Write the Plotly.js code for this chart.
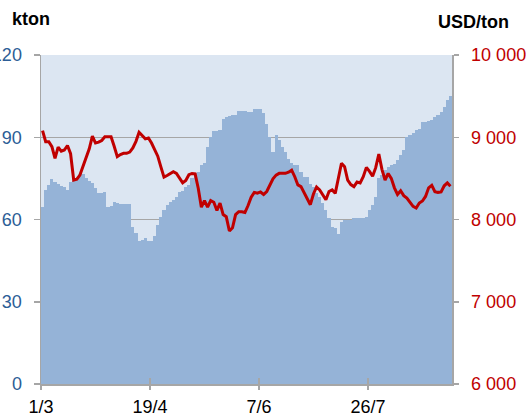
<!DOCTYPE html>
<html>
<head>
<meta charset="utf-8">
<script src="https://cdn.plot.ly/plotly-3.0.1.min.js"></script>
<style>html,body{margin:0;padding:0;background:#fff;} #chart{width:526px;height:413px;}</style>
</head>
<body>
<div id="chart"></div>
<script>
// Category tick labels (trading days, a label every 35 trading days)
const tickLabels = ['1/3', '19/4', '7/6', '26/7'];
const tickIndex = [0, 35, 70, 105];

// Stocks, kton (left axis, bars) - one value per trading day
const stocksKton = [
  64.7, 70.7, 72.6, 74.6, 73.6, 72.8, 72.3, 72.0, 70.7, 73.8,
  74.2, 74.4, 76.6, 76.6, 75.2, 74.2, 73.4, 71.5, 69.5, 69.8,
  70.0, 64.7, 65.0, 66.5, 66.0, 65.6, 65.6, 65.6, 65.6, 57.1,
  55.0, 52.2, 52.5, 53.1, 52.1, 52.1, 54.0, 58.0, 61.0, 63.5,
  65.3, 66.5, 67.0, 68.3, 70.0, 70.5, 72.0, 72.5, 75.0, 76.8,
  77.4, 79.9, 80.5, 86.5, 90.2, 92.2, 92.4, 92.6, 96.5, 97.3,
  97.7, 98.1, 98.1, 99.7, 99.7, 99.5, 99.3, 99.3, 100.2, 100.2,
  100.2, 98.9, 95.0, 90.2, 84.5, 90.8, 89.0, 86.5, 84.7, 82.0,
  80.5, 79.9, 79.9, 77.4, 75.6, 75.6, 73.0, 72.0, 69.5, 68.3,
  65.9, 63.5, 60.4, 57.4, 57.0, 54.7, 59.2, 59.8, 59.8, 59.8,
  60.4, 60.4, 60.4, 60.6, 61.0, 63.5, 65.3, 68.3, 75.0, 76.2,
  78.0, 79.0, 79.9, 80.2, 81.7, 83.5, 85.3, 90.2, 91.0, 91.4,
  92.6, 93.0, 95.4, 95.4, 96.0, 96.3, 97.5, 98.1, 99.3, 101.1,
  103.6, 105.0
];

// Price, USD/ton (right axis, line)
const priceUsd = [
  9080, 8946, 8946, 8885, 8744, 8880, 8830, 8845, 8900, 8800,
  8480, 8490, 8540, 8650, 8750, 8860, 9015, 8930, 8940, 8960,
  9005, 9007, 9005, 8890, 8764, 8790, 8804, 8804, 8820, 8870,
  8950, 9060, 9020, 8980, 8990, 8930, 8850, 8770, 8640, 8515,
  8535, 8560, 8581, 8560, 8500, 8445, 8475, 8545, 8560, 8555,
  8380, 8150, 8230, 8150, 8230, 8210, 8110, 8200, 8060, 8034,
  7860, 7900, 8060, 8095, 8095, 8085, 8170, 8270, 8330, 8320,
  8335, 8305, 8340, 8420, 8495, 8540, 8561, 8561, 8561, 8575,
  8600, 8520, 8420, 8400, 8330, 8250, 8180, 8310, 8395, 8359,
  8300, 8240, 8340, 8359, 8318, 8500, 8683, 8642, 8480, 8425,
  8400, 8455, 8445, 8520, 8634, 8585, 8525, 8630, 8796, 8610,
  8480, 8560, 8500, 8385, 8305, 8350, 8290, 8260, 8215, 8160,
  8140, 8200, 8225, 8280, 8385, 8415, 8338, 8330, 8335, 8410,
  8445, 8405
];

const leftTicks = [0, 30, 60, 90, 120];
const rightTicks = [6000, 7000, 8000, 9000, 10000];

const idx = stocksKton.map((_, i) => i);
const xRange = [-0.5, stocksKton.length - 0.5];
const tickPos = tickIndex.map(v => v - 0.5);

const gridGray = '#a6a6a6';
const FONT = 'Liberation Sans, Arial, sans-serif';

const traces = [
  {
    type: 'bar', x: idx, y: stocksKton, xaxis: 'x', yaxis: 'y',
    marker: {color: '#95b3d7', line: {width: 0}},
    hoverinfo: 'skip'
  },
  {
    type: 'scatter', mode: 'lines', x: idx, y: priceUsd, xaxis: 'x2', yaxis: 'y2',
    line: {color: '#c00000', width: 3, shape: 'linear'},
    hoverinfo: 'skip'
  }
];

const layout = {
  width: 526, height: 413,
  margin: {l: 41, r: 74, t: 55, b: 29, pad: 0},
  paper_bgcolor: '#ffffff',
  plot_bgcolor: '#dce6f2',
  showlegend: false,
  bargap: 0,
  separators: '. ',
  font: {family: FONT, size: 18, color: '#000'},
  xaxis: {
    range: xRange, tickmode: 'array', tickvals: tickPos, ticktext: tickLabels,
    ticks: 'outside', ticklen: 4, tickwidth: 1.5, tickcolor: gridGray,
    showline: true, linecolor: gridGray, linewidth: 1.5,
    showgrid: false, zeroline: false,
    tickfont: {family: FONT, size: 18, color: '#000'},
    ticklabelstandoff: 2
  },
  xaxis2: {
    overlaying: 'x', anchor: 'y', side: 'bottom',
    range: xRange, tickmode: 'array', tickvals: tickPos, ticktext: tickLabels,
    ticks: 'inside', ticklen: 6, tickwidth: 1.5, tickcolor: gridGray,
    showticklabels: false, showline: false, showgrid: false, zeroline: false
  },
  yaxis: {
    range: [0, 120], tickmode: 'array', tickvals: leftTicks,
    ticks: 'outside', ticklen: 6, tickwidth: 1.5, tickcolor: gridGray,
    showline: true, linecolor: gridGray, linewidth: 1.5,
    showgrid: true, gridcolor: gridGray, gridwidth: 1.5, zeroline: false,
    tickfont: {family: FONT, size: 18, color: '#2c5d96'},
    ticklabelstandoff: 8
  },
  yaxis2: {
    overlaying: 'y', side: 'right', anchor: 'x2',
    range: [6000, 10000], tickmode: 'array', tickvals: rightTicks, tickformat: ',d',
    ticks: 'outside', ticklen: 5, tickwidth: 1.5, tickcolor: gridGray,
    showline: true, linecolor: gridGray, linewidth: 1.5,
    showgrid: false, zeroline: false,
    tickfont: {family: FONT, size: 18, color: '#c00000'},
    ticklabelstandoff: 9
  },
  annotations: [
    {text: '<b>kton</b>', xref: 'paper', yref: 'paper', x: (10 - 41) / 411, y: (384 - 19) / 329,
     xanchor: 'left', yanchor: 'middle', showarrow: false,
     font: {family: FONT, size: 18, color: '#000'}},
    {text: '<b>USD/ton</b>', xref: 'paper', yref: 'paper', x: (436 - 41) / 411, y: (384 - 22) / 329,
     xanchor: 'left', yanchor: 'middle', showarrow: false,
     font: {family: FONT, size: 18, color: '#000'}}
  ]
};

Plotly.newPlot('chart', traces, layout, {staticPlot: true, displayModeBar: false});
</script>
</body>
</html>
